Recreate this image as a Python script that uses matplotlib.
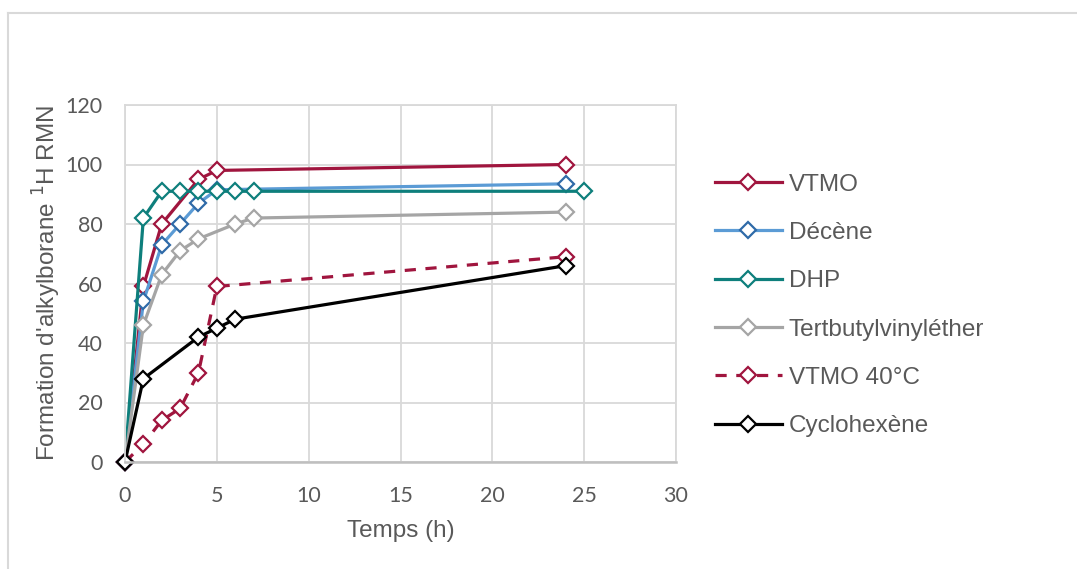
import matplotlib
matplotlib.use("Agg")
import matplotlib.pyplot as plt
from matplotlib.lines import Line2D

# data
vtmo_t = [0, 1, 2, 4, 5, 24]
vtmo_y = [0, 59, 80, 95, 98, 100]

decene_t = [0, 1, 2, 3, 4, 5, 24]
decene_y = [0, 54, 73, 80, 87, 91.5, 93.5]

dhp_t = [0, 1, 2, 3, 4, 5, 6, 7, 25]
dhp_y = [0, 82, 91, 91, 91, 91, 91, 91, 91]

tbve_t = [0, 1, 2, 3, 4, 6, 7, 24]
tbve_y = [0, 46, 63, 71, 75, 80, 82, 84]

vtmo40_t = [0, 1, 2, 3, 4, 5, 24]
vtmo40_y = [0, 6, 14, 18, 30, 59, 69]

cyclo_t = [0, 1, 4, 5, 6, 24]
cyclo_y = [0, 28, 42, 45, 48, 66]

fig = plt.figure(figsize=(10.77, 5.69), dpi=100)
ax = fig.add_axes([125 / 1077, 1 - 462 / 569, (676 - 125) / 1077, (462 - 105) / 569])

# light frame around the chart, as in the screenshot
fig.add_artist(Line2D([8 / 1077, 1.01], [1 - 12.5 / 569, 1 - 12.5 / 569],
                      transform=fig.transFigure, color="#d9d9d9", lw=1.5))
fig.add_artist(Line2D([8 / 1077, 8 / 1077], [1 - 12.5 / 569, -0.01],
                      transform=fig.transFigure, color="#d9d9d9", lw=1.5))

mk = dict(marker="D", markersize=8.3, markerfacecolor="white", markeredgewidth=1.6, clip_on=False)
lw = 2.3

ax.plot(vtmo_t, vtmo_y, color="#a0153e", lw=lw, markeredgecolor="#a0153e", label="VTMO", **mk)
ax.plot(decene_t, decene_y, color="#5b9bd5", lw=lw, markeredgecolor="#2f6aa8", label="Décène", **mk)
ax.plot(dhp_t, dhp_y, color="#0e7f7c", lw=lw, markeredgecolor="#0e7f7c", label="DHP", **mk)
ax.plot(tbve_t, tbve_y, color="#a5a5a5", lw=lw, markeredgecolor="#a5a5a5",
        label="Tertbutylvinyléther", **mk)
ax.plot(vtmo40_t, vtmo40_y, color="#a0153e", lw=lw, ls=(0, (3.5, 3)), markeredgecolor="#a0153e",
        label="VTMO 40°C", **mk)
ax.plot(cyclo_t, cyclo_y, color="black", lw=lw, markeredgecolor="black", label="Cyclohexène", **mk)

ax.set_xlim(0, 30)
ax.set_ylim(0, 120)
ax.set_xticks(range(0, 31, 5))
ax.set_yticks(range(0, 121, 20))
ax.grid(True, color="#d9d9d9", lw=1.3)
ax.set_axisbelow(True)
for s in ax.spines.values():
    s.set_color("#d9d9d9")
    s.set_linewidth(1.3)
ax.spines["bottom"].set_color("#bfbfbf")
ax.spines["bottom"].set_linewidth(1.8)
ax.tick_params(length=0, labelsize=15.5, labelcolor="#595959")
ax.tick_params(axis="x", pad=17)
ax.tick_params(axis="y", pad=16)
for lab in ax.get_xticklabels() + ax.get_yticklabels():
    lab.set_family("Lato")

ax.set_xlabel("Temps (h)", fontsize=17.5, color="#595959", family="Liberation Sans", labelpad=10)
ax.set_ylabel("Formation d'alkylborane $^{1}$H RMN", fontsize=17.5, color="#595959",
              family="Liberation Sans", labelpad=2)

leg = fig.legend(loc="upper left", bbox_to_anchor=(705 / 1077, 1 - 164 / 569),
                 frameon=False, prop={"family": "Liberation Sans", "size": 17.5},
                 handlelength=2.75, handletextpad=0.3, labelspacing=1.08, borderaxespad=0)
for t in leg.get_texts():
    t.set_color("#595959")

fig.savefig("out.png", dpi=100)
